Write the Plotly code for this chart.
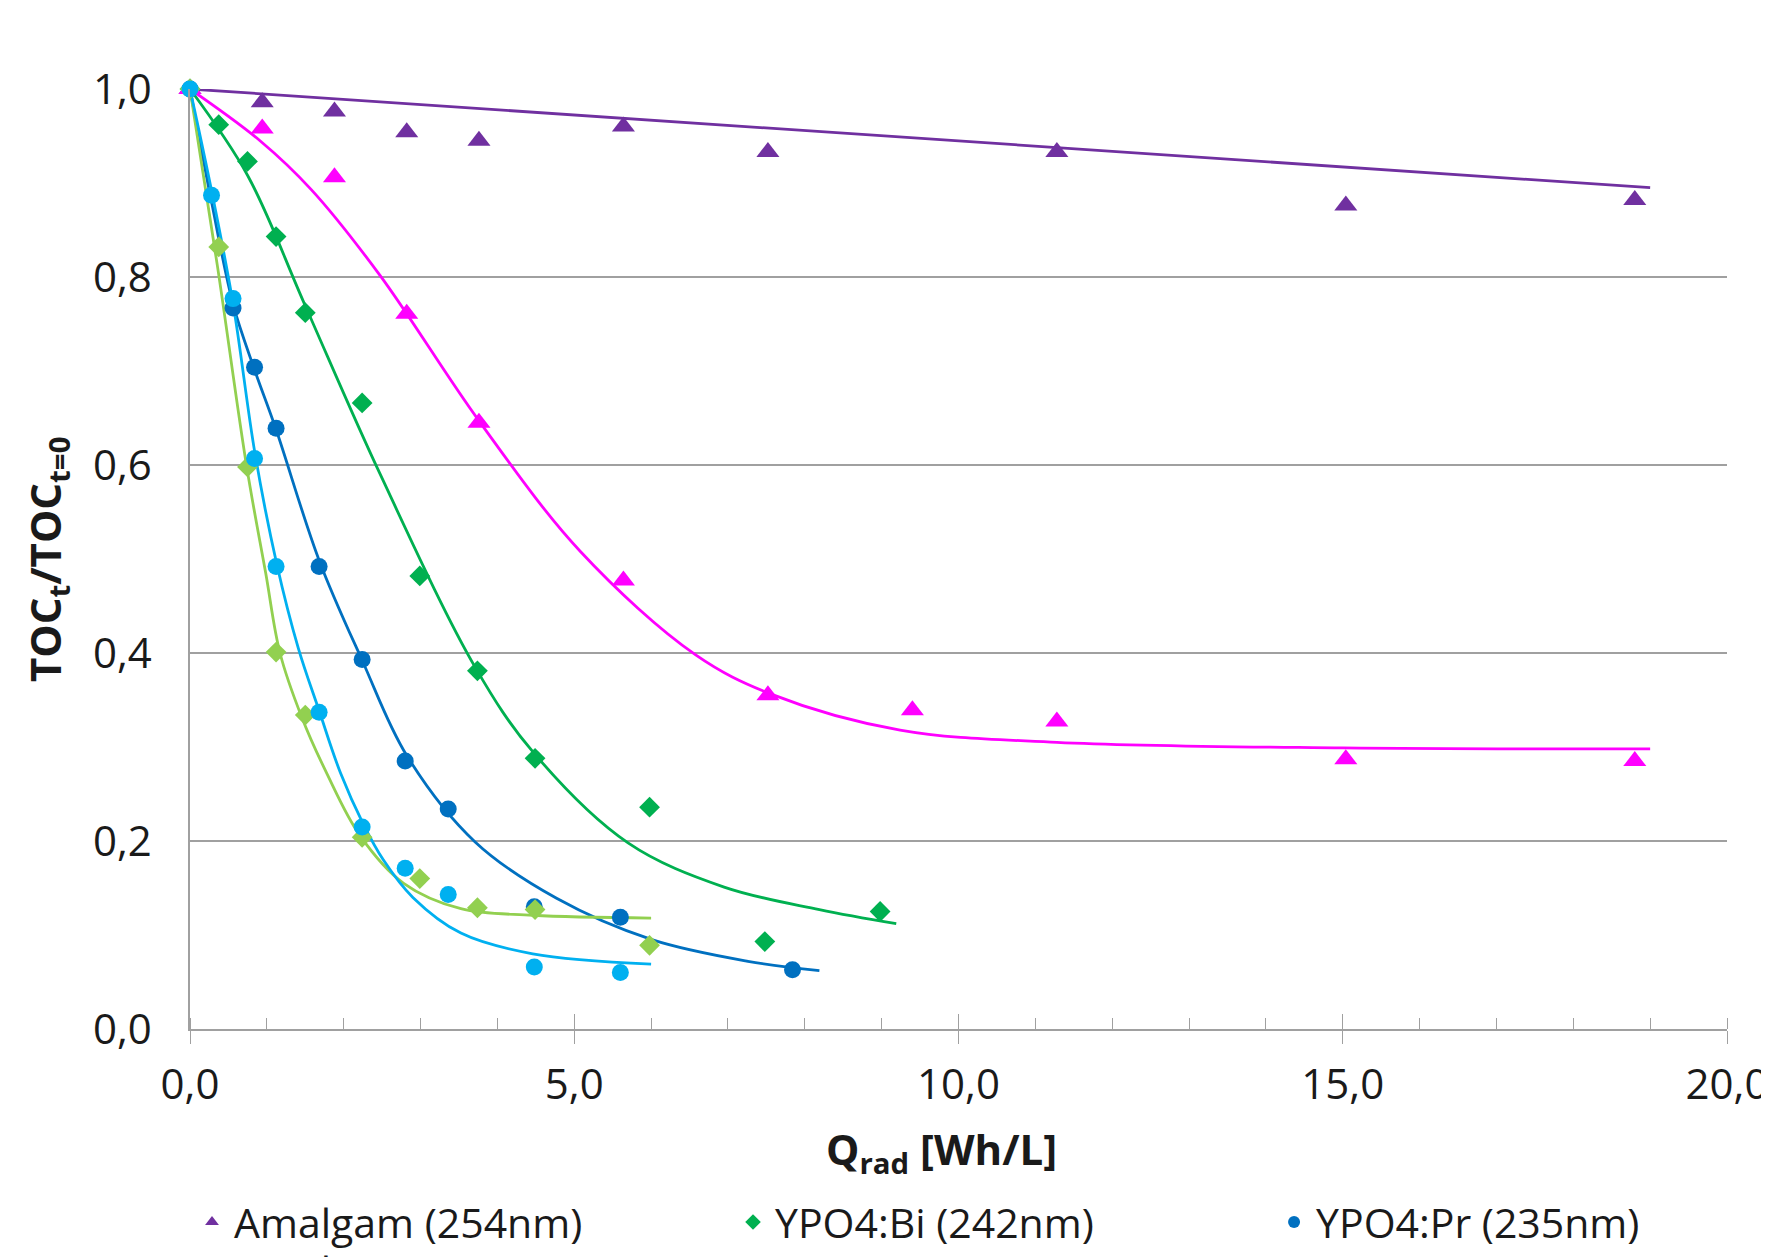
import plotly.graph_objects as go

# ---------------- data ----------------
# measured points
amalgam_x = [0, 0.94, 1.88, 2.82, 3.76, 5.64, 7.52, 11.28, 15.04, 18.80]
amalgam_y = [1.0, 0.986, 0.976, 0.954, 0.945, 0.960, 0.933, 0.933, 0.876, 0.882]

amalgam2_x = [0, 0.94, 1.88, 2.82, 3.76, 5.64, 7.52, 9.40, 11.28, 15.04, 18.80]
amalgam2_y = [1.0, 0.958, 0.906, 0.761, 0.645, 0.477, 0.355, 0.339, 0.327, 0.287, 0.285]

bi_x = [0, 0.374, 0.748, 1.12, 1.50, 2.24, 2.99, 3.74, 4.49, 5.98, 7.48, 8.98]
bi_y = [1.0, 0.962, 0.923, 0.843, 0.762, 0.666, 0.482, 0.381, 0.288, 0.236, 0.093, 0.125]

bi2_x = [0, 0.374, 0.748, 1.12, 1.50, 2.24, 2.99, 3.74, 4.49, 5.98]
bi2_y = [1.0, 0.832, 0.598, 0.401, 0.334, 0.204, 0.160, 0.129, 0.127, 0.089]

pr_x = [0, 0.56, 0.84, 1.12, 1.68, 2.24, 2.80, 3.36, 4.48, 5.60, 7.84]
pr_y = [1.0, 0.767, 0.704, 0.639, 0.492, 0.393, 0.285, 0.234, 0.130, 0.119, 0.063]

pr2_x = [0, 0.28, 0.56, 0.84, 1.12, 1.68, 2.24, 2.80, 3.36, 4.48, 5.60]
pr2_y = [1.0, 0.887, 0.777, 0.607, 0.492, 0.337, 0.215, 0.171, 0.143, 0.066, 0.060]

# fitted curves
amalgam_fit_x = [0, 19.0]
amalgam_fit_y = [1.0, 0.895]

amalgam2_fit_x = [0, 0.911, 1.578, 2.47, 3.76, 5.08, 6.58, 7.57, 9.24, 11.28, 15.0, 19.0]
amalgam2_fit_y = [1.0, 0.945, 0.893, 0.802, 0.647, 0.508, 0.398, 0.356, 0.318, 0.305, 0.299, 0.298]

bi_fit_x = [0, 0.75, 1.497, 2.47, 3.71, 4.46, 5.70, 6.95, 8.19, 9.19]
bi_fit_y = [1.0, 0.908, 0.770, 0.591, 0.385, 0.295, 0.198, 0.151, 0.127, 0.112]

bi2_fit_x = [0, 0.36, 0.738, 0.985, 1.171, 1.453, 1.78, 2.21, 2.78, 3.525, 4.46, 6.0]
bi2_fit_y = [1.0, 0.810, 0.598, 0.485, 0.400, 0.332, 0.272, 0.206, 0.155, 0.128, 0.121, 0.118]

pr_fit_x = [0, 0.28, 0.564, 0.833, 1.119, 1.683, 2.247, 2.82, 3.71, 4.77, 6.01, 7.26, 8.19]
pr_fit_y = [1.0, 0.880, 0.770, 0.703, 0.638, 0.498, 0.391, 0.291, 0.199, 0.139, 0.095, 0.072, 0.062]

pr2_fit_x = [0, 0.29, 0.564, 0.846, 1.128, 1.41, 1.683, 1.96, 2.255, 2.515, 2.90, 3.525, 4.46, 6.0]
pr2_fit_y = [1.0, 0.888, 0.770, 0.612, 0.495, 0.405, 0.338, 0.272, 0.218, 0.180, 0.140, 0.102, 0.080, 0.069]

names = ["Amalgam (254nm)", "YPO4:Bi (242nm)", "YPO4:Pr (235nm)",
         "Amalgam (254nm)", "YPO4:Bi (242nm)", "YPO4:Pr (235nm)"]

x_ticks = [0, 5, 10, 15, 20]
y_ticks = [0, 0.2, 0.4, 0.6, 0.8, 1.0]

# ---------------- styles ----------------
C_PURPLE = "#7030a0"
C_MAGENTA = "#ff00ff"
C_GREEN = "#00b050"
C_LGREEN = "#92d050"
C_BLUE = "#0070c0"
C_LBLUE = "#00b0f0"
FONT = "Open Sans"

fig = go.Figure()

fits = [
    (amalgam_fit_x, amalgam_fit_y, C_PURPLE, "linear"),
    (amalgam2_fit_x, amalgam2_fit_y, C_MAGENTA, "spline"),
    (bi_fit_x, bi_fit_y, C_GREEN, "spline"),
    (pr_fit_x, pr_fit_y, C_BLUE, "spline"),
    (bi2_fit_x, bi2_fit_y, C_LGREEN, "spline"),
    (pr2_fit_x, pr2_fit_y, C_LBLUE, "spline"),
]
for fx, fy, col, shp in fits:
    fig.add_trace(go.Scatter(
        x=fx, y=fy, mode="lines",
        line=dict(color=col, width=2.8, shape=shp, smoothing=1.0),
        showlegend=False, hoverinfo="skip", cliponaxis=False))

series = [
    (amalgam_x, amalgam_y, names[0], C_PURPLE, "triangle-up", 20, "legend"),
    (bi_x, bi_y, names[1], C_GREEN, "diamond", 16, "legend2"),
    (pr_x, pr_y, names[2], C_BLUE, "circle", 17, "legend3"),
    (amalgam2_x, amalgam2_y, names[3], C_MAGENTA, "triangle-up", 20, "legend4"),
    (bi2_x, bi2_y, names[4], C_LGREEN, "diamond", 16, "legend5"),
    (pr2_x, pr2_y, names[5], C_LBLUE, "circle", 17, "legend6"),
]
for sx, sy, nm, col, sym, sz, lg in series:
    fig.add_trace(go.Scatter(
        x=sx, y=sy, mode="markers", name=nm, legend=lg,
        marker=dict(color=col, symbol=sym, size=sz, line=dict(width=0)),
        cliponaxis=False))

# helper axis to draw the upward half of the major x ticks
fig.add_trace(go.Scatter(x=[], y=[], xaxis="x2", showlegend=False))

grid_col = "#a0a0a0"
tick_font = dict(family=FONT, size=42, color="#1a1a1a")

legend_common = dict(
    orientation="v", xanchor="left", yanchor="top",
    font=dict(family=FONT, size=41, color="#1a1a1a"),
    bgcolor="rgba(0,0,0,0)", itemsizing="constant", itemwidth=34,
)
col_x = [0.0, 0.352, 0.704]
row_y = [-0.170, -0.221]

fig.update_layout(
    width=1769, height=1257,
    paper_bgcolor="white", plot_bgcolor="white",
    separators=",.",
    margin=dict(l=182, r=50, t=81, b=236, autoexpand=False),
    xaxis=dict(
        range=[0, 20], tickvals=x_ticks, tickformat=".1f",
        showgrid=False, zeroline=False,
        showline=True, linecolor=grid_col, linewidth=1.5,
        ticks="outside", ticklen=13, tickwidth=1.2, tickcolor=grid_col,
        minor=dict(dtick=1, ticks="inside", ticklen=11, tickwidth=1.2,
                   tickcolor=grid_col, showgrid=False),
        tickfont=tick_font, ticklabelstandoff=5,
    ),
    xaxis2=dict(
        range=[0, 20], overlaying="x", anchor="y", side="bottom",
        tickvals=x_ticks, ticks="inside", ticklen=15, tickwidth=1.2,
        tickcolor=grid_col, showticklabels=False, showgrid=False,
        zeroline=False, showline=False,
    ),
    yaxis=dict(
        range=[0, 1.0], tickvals=y_ticks, tickformat=".1f",
        showgrid=True, gridcolor=grid_col, gridwidth=1.5,
        zeroline=False, showline=True, linecolor=grid_col, linewidth=1.5,
        ticks="", tickfont=tick_font, ticklabelstandoff=28,
    ),
    legend=dict(legend_common, x=col_x[0], y=row_y[0]),
    legend2=dict(legend_common, x=col_x[1], y=row_y[0]),
    legend3=dict(legend_common, x=col_x[2], y=row_y[0]),
    legend4=dict(legend_common, x=col_x[0], y=row_y[1]),
    legend5=dict(legend_common, x=col_x[1], y=row_y[1]),
    legend6=dict(legend_common, x=col_x[2], y=row_y[1]),
    annotations=[
        dict(text="<b>TOC<sub>t</sub>/TOC<sub>t=0</sub></b>", xref="paper", yref="paper",
             x=-0.093, y=0.5, textangle=-90, showarrow=False,
             xanchor="center", yanchor="middle",
             font=dict(family=FONT, size=42, color="#1a1a1a")),
        dict(text="<b>Q<sub>rad</sub> [Wh/L]</b>", xref="paper", yref="paper",
             x=0.489, y=-0.130, showarrow=False,
             xanchor="center", yanchor="middle",
             font=dict(family=FONT, size=42, color="#1a1a1a")),
    ],
)

fig.write_html("out.html")
